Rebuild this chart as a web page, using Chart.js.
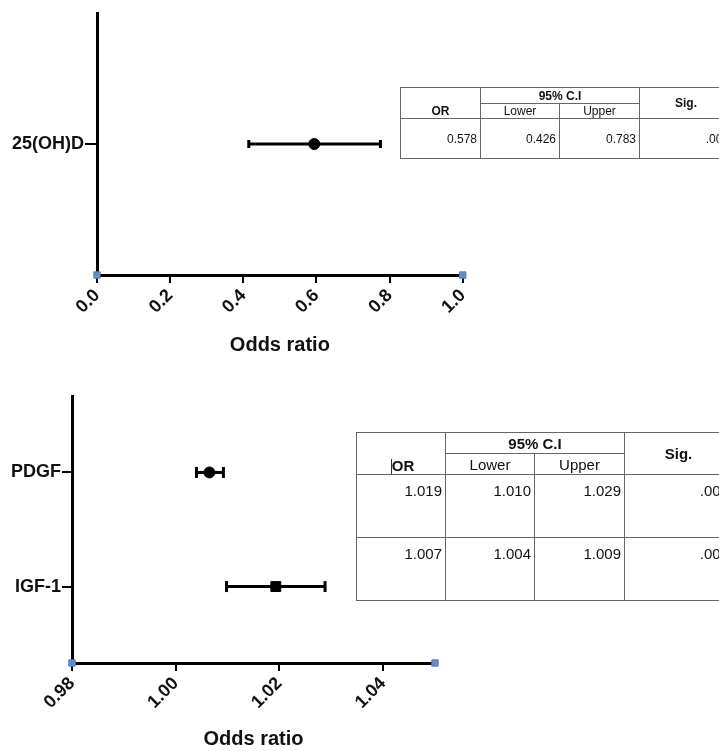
<!DOCTYPE html>
<html>
<head>
<meta charset="utf-8">
<script src="https://cdn.jsdelivr.net/npm/chart.js@4/dist/chart.umd.min.js"></script>
<style>
  html, body { margin: 0; padding: 0; background: #fff; }
  body { width: 719px; height: 751px; overflow: hidden; position: relative; font-family: "Liberation Sans", Arial, sans-serif; }
  canvas { position: absolute; }
  table.tbl { position: absolute; border-collapse: collapse; table-layout: fixed; color: #111; }
  table.tbl td, table.tbl th { border: 1px solid #666; padding: 0; overflow: hidden; white-space: nowrap; }
  #t1 { left: 400px; top: 87px; font-size: 12px; }
  #t2 { left: 356px; top: 432px; font-size: 15px; }
  .tbl th { font-weight: bold; text-align: center; }
  .tbl td.sub { text-align: center; font-weight: normal; }
  .tbl th.or { vertical-align: bottom; }
  #t2 th.or { padding-left: 4px; }
  .tbl td.num { text-align: right; padding-right: 3px; }
  #t1 td.num { vertical-align: middle; }
  #t2 td.num { vertical-align: top; padding-top: 7px; }
  #cursor { position: absolute; left: 391px; top: 459px; width: 1px; height: 15px; background: #333; }
</style>
</head>
<body>
<canvas id="topChart" width="480" height="370" style="left:0;top:0"></canvas>
<canvas id="bottomChart" width="460" height="371" style="left:0;top:380px"></canvas>
<table id="t1" class="tbl"></table>
<table id="t2" class="tbl"></table>
<div id="cursor"></div>
<script>
// top plot
const topLabels = ["25(OH)D"];
const topOR = [0.594];
const topLower = [0.415];
const topUpper = [0.775];
const topMarkers = ["circle"];
const topTicks = [0.0, 0.2, 0.4, 0.6, 0.8, 1.0];

// bottom plot
const bottomLabels = ["PDGF", "IGF-1"];
const bottomOR = [1.0065, 1.0193];
const bottomLower = [1.0040, 1.0098];
const bottomUpper = [1.0092, 1.0288];
const bottomMarkers = ["circle", "rect"];
const bottomTicks = [0.98, 1.00, 1.02, 1.04];

// tables
const tableHead = ["OR", "95% C.I", "Lower", "Upper", "Sig."];
const table1Rows = [["0.578", "0.426", "0.783", ".000"]];
const table2Rows = [["1.019", "1.010", "1.029", ".000"], ["1.007", "1.004", "1.009", ".000"]];

Chart.defaults.font.family = "'Liberation Sans', Arial, sans-serif";
Chart.defaults.color = "#111";

function forestChart(id, o) {
  const datasets = [{
    data: o.or.map((v, i) => ({ x: v, y: i + 1 })),
    pointStyle: o.markers,
    pointRadius: o.markers.map(m => m === "rect" ? 7 : 5.5),
    backgroundColor: "#000",
    borderColor: "#000",
    pointBorderWidth: 1
  }];
  o.or.forEach((v, i) => {
    datasets.push({
      data: [{ x: o.lower[i], y: i + 1 }, { x: o.upper[i], y: i + 1 }],
      showLine: true,
      borderColor: "#000",
      borderWidth: 3,
      pointStyle: "line",
      pointRotation: 90,
      pointRadius: o.cap,
      pointBorderWidth: 3,
      pointBorderColor: "#000"
    });
  });
  // small blue handles at the ends of the x axis
  datasets.push({
    data: [{ x: o.xMin, y: o.yMax }, { x: o.xMax, y: o.yMax }],
    pointStyle: "rect",
    pointRadius: 4.5,
    backgroundColor: "#6a8bc9",
    borderColor: "#5a7bbb",
    pointBorderWidth: 1,
    clip: false
  });

  return new Chart(document.getElementById(id), {
    type: "scatter",
    data: { datasets },
    options: {
      responsive: false,
      animation: false,
      layout: { padding: { top: o.padTop, right: o.padRight, left: 0, bottom: 0 } },
      plugins: { legend: { display: false }, tooltip: { enabled: false } },
      scales: {
        x: {
          type: "linear",
          min: o.xMin,
          max: o.xMax,
          afterBuildTicks: s => { s.ticks = o.ticks.map(v => ({ value: v })); },
          afterFit: s => { s.height = o.xHeight; },
          ticks: {
            callback: v => v.toFixed(o.decimals),
            font: { size: 18, weight: "bold" },
            color: "#111",
            minRotation: 45,
            maxRotation: 45,
            padding: 2
          },
          grid: { drawOnChartArea: false, drawTicks: true, tickLength: 8, lineWidth: 2, color: "#000" },
          border: { color: "#000", width: 3 },
          title: {
            display: true,
            text: "Odds ratio",
            font: { size: 20, weight: "bold" },
            color: "#111",
            padding: { top: 0, bottom: o.titlePad }
          }
        },
        y: {
          type: "linear",
          reverse: true,
          min: o.yMin,
          max: o.yMax,
          afterBuildTicks: s => { s.ticks = o.labels.map((l, i) => ({ value: i + 1 })); },
          afterFit: s => { s.width = o.yWidth; },
          ticks: {
            callback: v => o.labels[Math.round(v) - 1],
            font: { size: 18, weight: "bold" },
            color: "#111",
            padding: 1
          },
          grid: { drawOnChartArea: false, drawTicks: true, tickLength: o.yTick, lineWidth: 2, color: "#000" },
          border: { color: "#000", width: 3 }
        }
      }
    }
  });
}

forestChart("topChart", {
  labels: topLabels, or: topOR, lower: topLower, upper: topUpper, markers: topMarkers,
  ticks: topTicks, decimals: 1, xMin: 0, xMax: 1.0, yMin: 0, yMax: 2,
  padTop: 13, padRight: 16, xHeight: 95, yWidth: 97, yTick: 12, titlePad: 13, cap: 4
});

forestChart("bottomChart", {
  labels: bottomLabels, or: bottomOR, lower: bottomLower, upper: bottomUpper, markers: bottomMarkers,
  ticks: bottomTicks, decimals: 2, xMin: 0.98, xMax: 1.05, yMin: 0.33, yMax: 2.67,
  padTop: 16, padRight: 25, xHeight: 88, yWidth: 72, yTick: 10, titlePad: 0, cap: 5.5
});

function buildTable(id, rows, widths, heights) {
  const t = document.getElementById(id);
  let html = "<colgroup>" + widths.map(w => `<col style="width:${w}px">`).join("") + "</colgroup>";
  html += `<tr style="height:${heights[0]}px"><th rowspan="2" class="or">${tableHead[0]}</th><th colspan="2">${tableHead[1]}</th><th rowspan="2">${tableHead[4]}</th></tr>`;
  html += `<tr style="height:${heights[1]}px"><td class="sub">${tableHead[2]}</td><td class="sub">${tableHead[3]}</td></tr>`;
  rows.forEach(r => {
    html += `<tr style="height:${heights[2]}px">` + r.map(c => `<td class="num">${c}</td>`).join("") + "</tr>";
  });
  t.innerHTML = html;
  t.style.width = widths.reduce((a, b) => a + b, 0) + "px";
}

buildTable("t1", table1Rows, [80, 79, 80, 93], [16, 15, 40]);
buildTable("t2", table2Rows, [89, 89, 90, 108], [21, 21, 63]);
</script>
</body>
</html>
